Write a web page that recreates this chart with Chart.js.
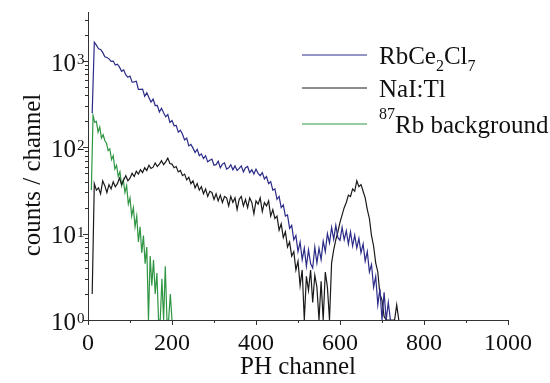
<!DOCTYPE html>
<html lang="en">
<head>
  <meta charset="UTF-8">
  <title>PH spectra</title>
  <script src="https://cdn.jsdelivr.net/npm/chart.js"></script>
  <style>
    body { margin: 0; background: #fff; }
    #wrap { width: 550px; height: 383px; }
  </style>
</head>
<body>
<div id="wrap"><canvas id="spec" width="550" height="383"></canvas></div>
<script>
  // channel grids (first channel, spacing)
  const rbStart = 10, rbStep = 5;
  const naiStart = 10, naiStep = 5;
  const bgStart = 8, bgStep = 4;

  // RbCe2Cl7 counts / channel
  const rbCounts = [
    250, 1650, 1530, 1390, 1360, 1260, 1120, 1100, 1060, 990,
    1000, 900, 920, 850, 760, 790, 690, 650, 670, 570,
    575, 585, 470, 470, 472, 390, 428, 378, 335, 362,
    305, 307, 257, 284, 252, 226, 240, 195, 205, 178,
    180, 150, 158, 142, 122, 128, 104, 108, 98, 87,
    95, 80, 84, 74, 80, 68, 71, 73, 62, 63,
    69, 58, 64, 66, 56, 58, 63, 55, 61, 54,
    57, 61, 52, 58, 60, 51, 55, 49, 56, 50,
    47, 51, 43, 46, 38, 40, 32, 33, 25, 27,
    20, 21.5, 16, 16.5, 11.5, 12.5, 8.5, 9.5, 6.2, 8,
    5, 6.8, 4.2, 6.5, 4.5, 4, 7, 4.6, 6.8, 5,
    8.2, 6.2, 10, 7.8, 11.8, 8.6, 12.5, 9, 8.4, 11.8,
    8.5, 10.8, 7.6, 10.5, 7.2, 9.6, 6.8, 8.8, 6, 7.6,
    4.8, 6.2, 3.6, 4.4, 2.4, 3.2, 1.5, 2.3, 1, 2.1,
    1, 1.6, 1
  ];

  // NaI:Tl counts / channel
  const naiCounts = [
    2, 38, 32, 34, 29, 41, 36, 30, 37, 33,
    40, 35, 38, 44, 37, 42, 47, 41, 44, 50,
    46, 53, 49, 55, 51, 58, 54, 62, 57, 59,
    66, 60, 64, 70, 63, 68, 75, 65, 64, 58,
    60, 52, 54, 47, 49, 42, 45, 38, 41, 34,
    38, 32, 35, 29, 33, 27, 31, 30, 25, 29,
    24, 28, 23, 27, 26, 21, 27, 23, 26, 19,
    25, 27, 21, 25, 20, 26, 23, 17, 24, 22,
    26, 18, 23, 21, 24, 16, 19, 15, 16, 11,
    13, 9, 10.5, 7, 8, 5.5, 6.2, 3.8, 4.8, 2.5,
    3.8, 1, 3.2, 2.2, 3.8, 1.6, 3.3, 2.4, 1, 2.8,
    1, 3.6, 2.4, 1, 4.6, 6.5, 8.5, 10.5, 13.5, 16.5,
    20, 23, 28, 27, 33, 31, 41, 35, 37, 31,
    26, 19, 15, 9.5, 7.2, 4.6, 3.6, 2, 1.7, 1.1,
    1, 1, 1, 1, 1, 1.5, 1
  ];

  // 87Rb background counts / channel
  const bgCounts = [
    32, 235, 195, 200, 150, 172, 128, 140, 120, 112,
    92, 96, 72, 80, 56, 62, 46, 52, 36, 42,
    30, 36, 22, 26, 16, 20, 12, 16, 8, 12,
    6, 9.5, 4.5, 7, 1, 5.5, 2.5, 5, 2, 3.5,
    1, 1, 3, 1, 4.2, 1, 1, 2, 1
  ];

  const seriesNames = ['RbCe2Cl7', 'NaI:Tl', '87Rb background'];
  const seriesColors = ['#2b2b88', '#1a1a1a', '#2e9642'];

  const xTicks = [0, 200, 400, 600, 800, 1000];
  const xMinorTicks = [100, 300, 500, 700, 900];
  const yDecades = [1, 10, 100, 1000];
  const yExponents = ['0', '1', '2', '3'];
  const yTitle = 'counts / channel';

  const serif = '"Liberation Serif"';

  function toPoints(start, step, vals) {
    return vals.map((v, i) => ({ x: start + i * step, y: v }));
  }

  // legend entries: list of [text, kind] pieces (kind: n normal, sub, sup)
  const legendRich = [
    [['RbCe', 'n'], ['2', 'sub'], ['Cl', 'n'], ['7', 'sub']],
    [['NaI:Tl', 'n']],
    [['87', 'sup'], ['Rb background', 'n']]
  ];

  const decor = {
    id: 'decor',
    afterDraw(chart) {
      const ctx = chart.ctx;
      const xs = chart.scales.x, ys = chart.scales.y;
      const a = chart.chartArea;
      ctx.save();
      ctx.strokeStyle = '#333';
      ctx.lineWidth = 1;
      ctx.beginPath();
      // x ticks, outward
      xTicks.concat(xMinorTicks).forEach(v => {
        const px = Math.round(xs.getPixelForValue(v)) + 0.5;
        const len = xTicks.includes(v) ? 5 : 3;
        ctx.moveTo(px, a.bottom);
        ctx.lineTo(px, a.bottom + len);
      });
      // y ticks, outward, minor at 2..9 of each decade
      yDecades.forEach(d => {
        for (let m = 1; m <= 9; m++) {
          const v = d * m;
          if (v > ys.max) break;
          const py = Math.round(ys.getPixelForValue(v)) + 0.5;
          const len = m === 1 ? 5 : 3;
          ctx.moveTo(a.left - len, py);
          ctx.lineTo(a.left + (v === 1 ? 4 : 0), py);
        }
      });
      ctx.stroke();

      // y tick labels 10^n
      ctx.fillStyle = '#111';
      ctx.textBaseline = 'alphabetic';
      yDecades.forEach((d, i) => {
        const py = ys.getPixelForValue(d);
        ctx.font = '25px ' + serif;
        ctx.textAlign = 'right';
        ctx.fillText('10', a.left - 12, py + 9.5);
        ctx.font = '15px ' + serif;
        ctx.textAlign = 'left';
        ctx.fillText(yExponents[i], a.left - 11, py + 3);
      });

      // y axis title
      ctx.save();
      ctx.translate(40, 175);
      ctx.rotate(-Math.PI / 2);
      ctx.font = '25px ' + serif;
      ctx.textAlign = 'center';
      ctx.fillText(yTitle, 0, 0);
      ctx.restore();

      // legend
      const rowsY = [55, 88, 124];
      legendRich.forEach((pieces, i) => {
        const y = rowsY[i];
        ctx.strokeStyle = seriesColors[i];
        ctx.lineWidth = 1;
        ctx.beginPath();
        ctx.moveTo(302, y);
        ctx.lineTo(367, y);
        ctx.stroke();
        let x = 379;
        ctx.textAlign = 'left';
        ctx.fillStyle = '#111';
        pieces.forEach(([t, kind]) => {
          let dy = 8.5;
          ctx.font = (kind === 'n' ? '25px ' : '16px ') + serif;
          if (kind === 'sub') dy += 7.5;
          if (kind === 'sup') dy -= 13.5;
          ctx.fillText(t, x, y + dy);
          x += ctx.measureText(t).width;
        });
      });
      ctx.restore();
    }
  };

  function draw() {
    new Chart(document.getElementById('spec'), {
      type: 'line',
      data: {
        datasets: [
          { label: seriesNames[0], data: toPoints(rbStart, rbStep, rbCounts), borderColor: seriesColors[0] },
          { label: seriesNames[1], data: toPoints(naiStart, naiStep, naiCounts), borderColor: seriesColors[1] },
          { label: seriesNames[2], data: toPoints(bgStart, bgStep, bgCounts), borderColor: seriesColors[2] }
        ]
      },
      options: {
        responsive: false,
        animation: false,
        layout: { padding: { top: 12, right: 42, bottom: 0, left: 0 } },
        elements: {
          point: { radius: 0 },
          line: { borderWidth: 1.2, tension: 0 }
        },
        plugins: {
          legend: { display: false },
          tooltip: { enabled: false }
        },
        scales: {
          x: {
            type: 'linear',
            min: 0,
            max: 1000,
            grid: { display: false },
            border: { display: true, color: '#333', width: 1 },
            ticks: {
              stepSize: 200,
              padding: 1,
              color: '#111',
              font: { family: serif, size: 24 },
              maxRotation: 0,
              callback: v => String(v)
            },
            title: {
              display: true,
              text: 'PH channel',
              color: '#111',
              font: { family: serif, size: 25 },
              padding: { top: 0, bottom: 1 }
            },
            afterFit(scale) { scale.height = 63; }
          },
          y: {
            type: 'logarithmic',
            min: 1,
            max: 3700,
            grid: { display: false },
            border: { display: true, color: '#333', width: 1 },
            ticks: { display: false },
            title: { display: false },
            afterFit(scale) { scale.width = 88; }
          }
        }
      },
      plugins: [decor]
    });
  }

  if (document.fonts && document.fonts.load) {
    Promise.all([
      document.fonts.load('25px "Liberation Serif"'),
      document.fonts.load('16px "Liberation Serif"')
    ]).then(draw, draw);
  } else {
    draw();
  }
</script>
</body>
</html>
